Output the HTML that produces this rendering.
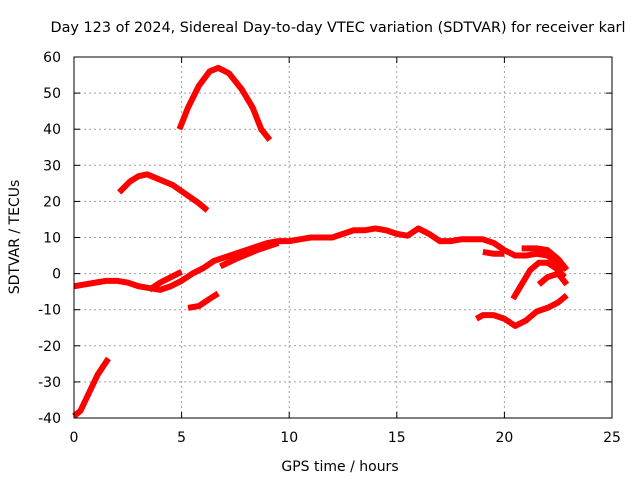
<!DOCTYPE html>
<html>
<head>
<meta charset="utf-8">
<style>
html,body{margin:0;padding:0;background:#fff;}
svg{display:block;font-family:"DejaVu Sans","Liberation Sans",sans-serif;}
</style>
</head>
<body>
<svg id="chart" width="640" height="480" viewBox="0 0 640 480">
  <text x="338" y="32" font-size="14.4" text-anchor="middle" fill="#000">Day 123 of 2024, Sidereal Day-to-day VTEC variation (SDTVAR) for receiver karl</text>
  <text x="340" y="471" font-size="14" text-anchor="middle" fill="#000">GPS time / hours</text>
  <text transform="translate(19,237) rotate(-90)" font-size="14" text-anchor="middle" fill="#000">SDTVAR / TECUs</text>
  <g id="grid"></g>
  <g id="ticks"></g>
  <g id="series"></g>
  <rect x="74" y="57" width="538" height="361" fill="none" stroke="#000" stroke-width="1"/>
</svg>
<script>
const xTicks = [0,5,10,15,20,25];
const yTicks = [-40,-30,-20,-10,0,10,20,30,40,50,60];
const seg1X = [0,0.3,0.7,1.1,1.6];
const seg1Y = [-39.5,-38,-33,-28,-23.5];
const seg2X = [2.1,2.6,3.0,3.4,4.0,4.6,5.2,5.8,6.2];
const seg2Y = [22.5,25.5,27,27.5,26,24.5,22,19.5,17.5];
const seg3X = [4.9,5.3,5.8,6.3,6.7,7.2,7.8,8.3,8.7,9.1];
const seg3Y = [40,46,52,56,57,55.5,51,46,40,37];
const seg4X = [0,0.5,1,1.5,2,2.5,3,3.5,4,4.5,5,5.5,6,6.5,7,7.5,8,8.5,9,9.5,10,10.5,11,11.5,12,12.5,13,13.5,14,14.5,15,15.5,16,16.5,17,17.5,18,18.5,19,19.5,20,20.5,21,21.5,22,22.5,22.8];
const seg4Y = [-3.5,-3,-2.5,-2,-2,-2.5,-3.5,-4,-4.5,-3.5,-2,0,1.5,3.5,4.5,5.5,6.5,7.5,8.5,9,9,9.5,10,10,10,11,12,12,12.5,12,11,10.5,12.5,11,9,9,9.5,9.5,9.5,8.5,6.5,5,5,5.5,5,3,1];
const seg5X = [3.5,4,4.5,5];
const seg5Y = [-4.5,-2.5,-1,0.5];
const seg6X = [6.8,7.5,8.5,9.5];
const seg6Y = [2,4,6.5,8.5];
const seg7X = [5.3,5.8,6.3,6.7];
const seg7Y = [-9.5,-9,-7,-5.5];
const seg8X = [18.7,19,19.5,20,20.5,21,21.5,22,22.5,22.9];
const seg8Y = [-12.5,-11.5,-11.5,-12.5,-14.5,-13,-10.5,-9.5,-8,-6];
const seg9X = [20.4,20.8,21.2,21.6,22,22.4,22.8];
const seg9Y = [-7,-3,1,3,3,1.5,-1];
const seg10X = [20.8,21.5,22,22.5,22.9];
const seg10Y = [7,7,6.5,4,1];
const seg11X = [21.6,22,22.5,22.9];
const seg11Y = [-3,-1,0,-3];
const seg12X = [19,19.5,20];
const seg12Y = [6,5.5,5.5];

const X0=74,X1=612,Y0=418,Y1=57;
function sx(v){return X0+(v-0)/(25-0)*(X1-X0);}
function sy(v){return Y0-(v+40)/(100)*(Y0-Y1);}
const NS="http://www.w3.org/2000/svg";
const grid=document.getElementById('grid');
const ticks=document.getElementById('ticks');
function mk(tag,attrs,parent){const e=document.createElementNS(NS,tag);for(const k in attrs)e.setAttribute(k,attrs[k]);parent.appendChild(e);return e;}
xTicks.forEach(t=>{
  const x=sx(t);
  if(t>0&&t<25){
    const g=mk('line',{x1:x,x2:x,y1:Y0,y2:Y1,stroke:'#a0a0a0','stroke-dasharray':'2,3'},grid);
    
    
  }
  mk('line',{x1:x,x2:x,y1:Y0,y2:Y0-6,stroke:'#000'},ticks);
  mk('line',{x1:x,x2:x,y1:Y1,y2:Y1+6,stroke:'#000'},ticks);
  const l=mk('text',{x:x,y:Y0+24,'font-size':14,'text-anchor':'middle'},ticks);
  l.textContent=t;
  
  
});
yTicks.forEach(t=>{
  const y=sy(t);
  if(t>-40&&t<60){
    const g=mk('line',{x1:X0,x2:X1,y1:y,y2:y,stroke:'#a0a0a0','stroke-dasharray':'2,3'},grid);
    
    
  }
  mk('line',{x1:X0,x2:X0+6,y1:y,y2:y,stroke:'#000'},ticks);
  mk('line',{x1:X1,x2:X1-6,y1:y,y2:y,stroke:'#000'},ticks);
  const l=mk('text',{x:X0-13,y:y+5,'font-size':14,'text-anchor':'end'},ticks);
  l.textContent=t;
  
  
});
const series=document.getElementById('series');
const segs=[[seg1X,seg1Y],[seg2X,seg2Y],[seg3X,seg3Y],[seg4X,seg4Y],[seg5X,seg5Y],[seg6X,seg6Y],[seg7X,seg7Y],[seg8X,seg8Y],[seg9X,seg9Y],[seg10X,seg10Y],[seg11X,seg11Y],[seg12X,seg12Y]];
segs.forEach(([xs,ys])=>{
  const pts=xs.map((v,i)=>sx(v)+','+sy(ys[i])).join(' ');
  const p=mk('polyline',{points:pts,fill:'none',stroke:'#ff0000','stroke-width':6,'stroke-linejoin':'round','stroke-linecap':'butt'},series);
  
  
});
</script>
</body>
</html>
